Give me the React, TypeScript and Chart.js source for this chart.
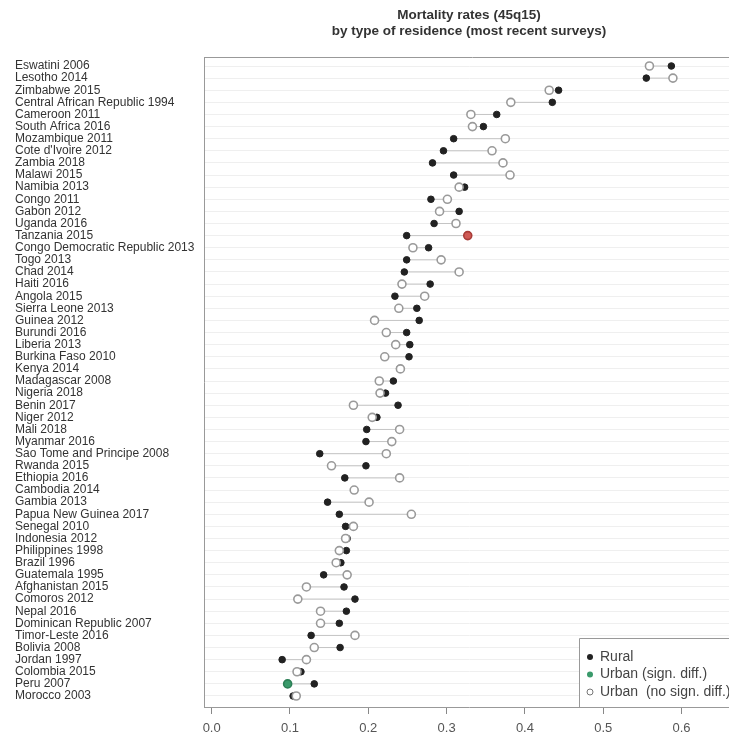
import { useEffect, useRef } from 'react';
import { Chart, registerables } from 'chart.js';

Chart.register(...registerables);

const countries = [
  'Eswatini 2006', 'Lesotho 2014', 'Zimbabwe 2015', 'Central African Republic 1994', 'Cameroon 2011',
  'South Africa 2016', 'Mozambique 2011', "Cote d'Ivoire 2012", 'Zambia 2018', 'Malawi 2015',
  'Namibia 2013', 'Congo 2011', 'Gabon 2012', 'Uganda 2016', 'Tanzania 2015',
  'Congo Democratic Republic 2013', 'Togo 2013', 'Chad 2014', 'Haiti 2016', 'Angola 2015',
  'Sierra Leone 2013', 'Guinea 2012', 'Burundi 2016', 'Liberia 2013', 'Burkina Faso 2010',
  'Kenya 2014', 'Madagascar 2008', 'Nigeria 2018', 'Benin 2017', 'Niger 2012',
  'Mali 2018', 'Myanmar 2016', 'Sao Tome and Principe 2008', 'Rwanda 2015', 'Ethiopia 2016',
  'Cambodia 2014', 'Gambia 2013', 'Papua New Guinea 2017', 'Senegal 2010', 'Indonesia 2012',
  'Philippines 1998', 'Brazil 1996', 'Guatemala 1995', 'Afghanistan 2015', 'Comoros 2012',
  'Nepal 2016', 'Dominican Republic 2007', 'Timor-Leste 2016', 'Bolivia 2008', 'Jordan 1997',
  'Colombia 2015', 'Peru 2007', 'Morocco 2003',
];

const rural = [
  0.587, 0.555, 0.443, 0.435, 0.364,
  0.347, 0.309, 0.296, 0.282, 0.309,
  0.323, 0.280, 0.316, 0.284, 0.249,
  0.277, 0.249, 0.246, 0.279, 0.234,
  0.262, 0.265, 0.249, 0.253, 0.252,
  0.240, 0.232, 0.222, 0.238, 0.211,
  0.198, 0.197, 0.138, 0.197, 0.170,
  0.182, 0.148, 0.163, 0.171, 0.173,
  0.172, 0.165, 0.143, 0.169, 0.183,
  0.172, 0.163, 0.127, 0.164, 0.090,
  0.114, 0.131, 0.104,
];

const urban = [
  0.559, 0.589, 0.431, 0.382, 0.331,
  0.333, 0.375, 0.358, 0.372, 0.381,
  0.316, 0.301, 0.291, 0.312, 0.327,
  0.257, 0.293, 0.316, 0.243, 0.272,
  0.239, 0.208, 0.223, 0.235, 0.221,
  0.241, 0.214, 0.215, 0.181, 0.205,
  0.240, 0.230, 0.223, 0.153, 0.240,
  0.182, 0.201, 0.255, 0.181, 0.171,
  0.163, 0.159, 0.173, 0.121, 0.110,
  0.139, 0.139, 0.183, 0.131, 0.121,
  0.109, 0.097, 0.108,
];

// 'none' = no significant difference, 'red' / 'green' = significant difference
const urbanSignificance = countries.map((_, i) => (i === 14 ? 'red' : i === 51 ? 'green' : 'none'));

const xTickValues = [0, 0.1, 0.2, 0.3, 0.4, 0.5, 0.6];
const titleLines = ['Mortality rates (45q15)', 'by type of residence (most recent surveys)'];
const legendLabels = ['Rural', 'Urban (sign. diff.)', 'Urban  (no sign. diff.)'];

const FONT = '"Liberation Sans", Arial, sans-serif';

const urbanFill = (s: string) => (s === 'red' ? '#cf5a55' : s === 'green' ? '#3a9a6b' : '#ffffff');
const urbanStroke = (s: string) => (s === 'red' ? '#a83c38' : s === 'green' ? '#2c7f56' : '#9a9a9a');

export default function App() {
  const ref = useRef<HTMLCanvasElement | null>(null);

  useEffect(() => {
    if (!ref.current) return;

    const segData: any[] = [];
    countries.forEach((_, i) => {
      segData.push({ x: rural[i], y: i });
      segData.push({ x: urban[i], y: i });
      segData.push({ x: null, y: i });
    });

    const decor = {
      id: 'decor',
      afterDraw(chart: any) {
        const { ctx, chartArea } = chart;
        ctx.save();
        // top border of the box
        ctx.strokeStyle = '#999999';
        ctx.lineWidth = 1;
        ctx.beginPath();
        ctx.moveTo(chartArea.left, chartArea.top + 0.5);
        ctx.lineTo(chartArea.right + 10, chartArea.top + 0.5);
        ctx.stroke();

        // title
        const cx = (chartArea.left + chartArea.right) / 2;
        ctx.fillStyle = '#333333';
        ctx.font = `bold 13.5px ${FONT}`;
        ctx.textAlign = 'center';
        ctx.textBaseline = 'middle';
        ctx.fillText(titleLines[0], cx, 15);
        ctx.fillText(titleLines[1], cx, 31);

        // legend
        const lx = 579.5;
        const ly = 638.5;
        ctx.fillStyle = '#ffffff';
        ctx.fillRect(lx, ly, 200, chartArea.bottom - ly);
        ctx.strokeStyle = '#999999';
        ctx.beginPath();
        ctx.moveTo(lx + 200, ly);
        ctx.lineTo(lx, ly);
        ctx.lineTo(lx, chartArea.bottom);
        ctx.stroke();
        const rows = [657, 674.5, 692];
        ctx.font = `14px ${FONT}`;
        ctx.textAlign = 'left';
        rows.forEach((yy, k) => {
          ctx.beginPath();
          ctx.arc(590, yy, 3, 0, Math.PI * 2);
          if (k === 0) {
            ctx.fillStyle = '#222222';
            ctx.fill();
          } else if (k === 1) {
            ctx.fillStyle = '#3a9a6b';
            ctx.fill();
          } else {
            ctx.fillStyle = '#ffffff';
            ctx.fill();
            ctx.strokeStyle = '#777777';
            ctx.lineWidth = 1;
            ctx.stroke();
          }
          ctx.fillStyle = '#444444';
          ctx.fillText(legendLabels[k], 600, yy);
        });
        ctx.restore();
      },
    };

    const chart = new Chart(ref.current, {
      type: 'scatter',
      data: {
        datasets: [
          {
            label: 'segments',
            data: segData,
            showLine: true,
            spanGaps: false,
            borderColor: '#c4c4c4',
            borderWidth: 1,
            pointRadius: 0,
            order: 3,
          } as any,
          {
            label: 'Rural',
            data: rural.map((v, i) => ({ x: v, y: i })),
            pointRadius: 3.3,
            pointBackgroundColor: '#222222',
            pointBorderColor: '#222222',
            pointBorderWidth: 1,
            order: 2,
          },
          {
            label: 'Urban',
            data: urban.map((v, i) => ({ x: v, y: i })),
            pointRadius: 4,
            pointBackgroundColor: urbanSignificance.map(urbanFill),
            pointBorderColor: urbanSignificance.map(urbanStroke),
            pointBorderWidth: 1.6,
            order: 1,
          },
        ],
      },
      options: {
        animation: false,
        responsive: false,
        devicePixelRatio: 1,
        layout: { padding: { left: 15, right: 6, top: 57, bottom: 0 } },
        plugins: {
          legend: { display: false },
          title: { display: false },
          tooltip: { enabled: false },
        },
        scales: {
          x: {
            type: 'linear',
            min: -0.0098,
            max: 0.667,
            afterBuildTicks: (axis: any) => {
              axis.ticks = xTickValues.map((v) => ({ value: v }));
            },
            afterFit: (axis: any) => {
              axis.height = 28;
            },
            ticks: {
              callback: (v: any) => Number(v).toFixed(1),
              color: '#555555',
              font: { family: FONT, size: 13 },
              padding: 7,
              autoSkip: false,
              maxRotation: 0,
            },
            grid: {
              drawOnChartArea: false,
              drawTicks: true,
              tickLength: 7,
              color: '#888888',
            },
            border: { display: true, color: '#999999', width: 1 },
          },
          y: {
            type: 'linear',
            reverse: true,
            min: -0.743,
            max: 52.908,
            afterBuildTicks: (axis: any) => {
              axis.ticks = countries.map((_, i) => ({ value: i }));
            },
            afterFit: (axis: any) => {
              axis.width = 189;
            },
            ticks: {
              callback: (v: any) => countries[Math.round(Number(v))] ?? '',
              crossAlign: 'far',
              autoSkip: false,
              color: '#333333',
              font: { family: FONT, size: 12 },
              padding: 4,
            },
            grid: {
              drawTicks: false,
              color: '#efefef',
              lineWidth: 1,
            },
            border: { display: true, color: '#999999', width: 1 },
          },
        },
      },
      plugins: [decor],
    } as any);

    return () => chart.destroy();
  }, []);

  return (
    <div style={{ position: 'fixed', left: 0, top: 0, width: 729, height: 735, overflow: 'hidden', background: '#fff' }}>
      <canvas ref={ref} width={740} height={735} style={{ display: 'block' }} />
    </div>
  );
}
